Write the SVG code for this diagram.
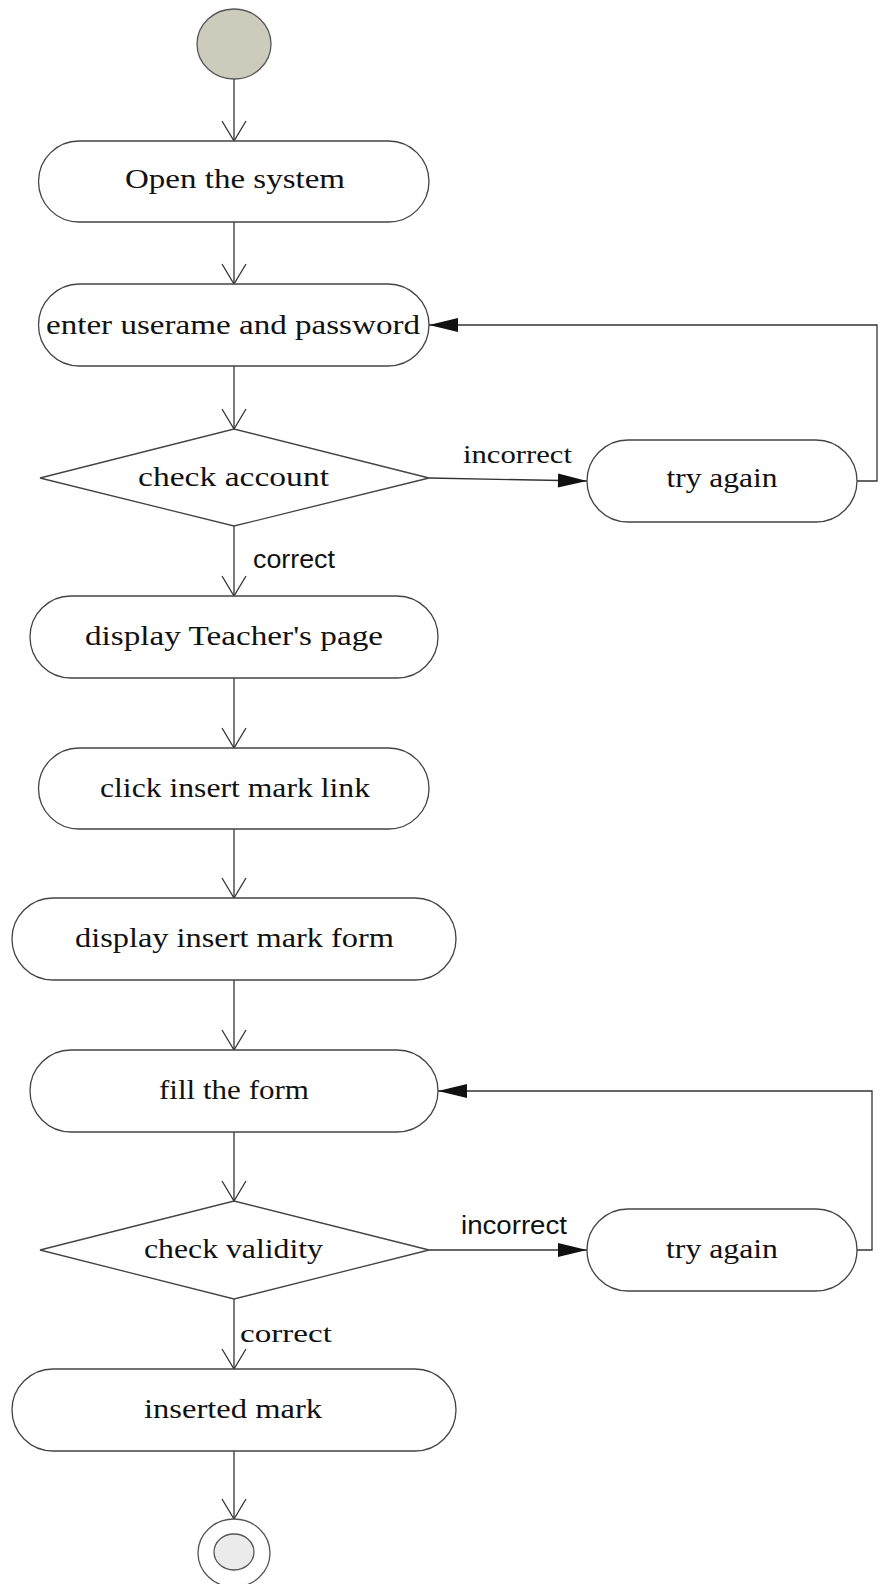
<svg xmlns="http://www.w3.org/2000/svg" width="880" height="1584" viewBox="0 0 880 1584">
<style>
  .node { fill: #ffffff; stroke: #444444; stroke-width: 1.3; }
  .lbl { font-family: "Liberation Serif", "Times New Roman", serif; font-size: 28px; fill: #111111; text-anchor: middle; }
  .elbl { font-family: "Liberation Serif", "Times New Roman", serif; font-size: 26px; fill: #111111; }
  .slbl { font-family: "Liberation Sans", Arial, sans-serif; font-size: 26px; fill: #111111; }
  .edge { fill: none; stroke: #333333; stroke-width: 1.3; }
</style>
<defs>
  <marker id="open" markerUnits="userSpaceOnUse" markerWidth="26" markerHeight="30" viewBox="-23 -15 26 30" refX="0" refY="0" orient="auto">
    <path d="M-20,-12 L0,0 L-20,12" fill="none" stroke="#333333" stroke-width="1.3"/>
  </marker>
  <marker id="filled" markerUnits="userSpaceOnUse" markerWidth="34" markerHeight="18" viewBox="-31 -9 34 18" refX="0" refY="0" orient="auto">
    <path d="M-29,-7 L0,0 L-29,7 Z" fill="#111111"/>
  </marker>
</defs>
<rect width="880" height="1584" fill="#ffffff"/>

<g id="connectors">
  <line class="edge" x1="234" y1="79" x2="234" y2="141" marker-end="url(#open)"/>
  <line class="edge" x1="234" y1="222" x2="234" y2="284" marker-end="url(#open)"/>
  <line class="edge" x1="234" y1="366" x2="234" y2="429" marker-end="url(#open)"/>
  <line class="edge" x1="429" y1="478" x2="587" y2="481" marker-end="url(#filled)"/>
  <polyline class="edge" points="857,481 877,481 877,325 429,325" marker-end="url(#filled)"/>
  <line class="edge" x1="234" y1="526" x2="234" y2="596" marker-end="url(#open)"/>
  <line class="edge" x1="234" y1="678" x2="234" y2="748" marker-end="url(#open)"/>
  <line class="edge" x1="234" y1="829" x2="234" y2="898" marker-end="url(#open)"/>
  <line class="edge" x1="234" y1="980" x2="234" y2="1050" marker-end="url(#open)"/>
  <line class="edge" x1="234" y1="1132" x2="234" y2="1201" marker-end="url(#open)"/>
  <line class="edge" x1="429" y1="1250" x2="587" y2="1250" marker-end="url(#filled)"/>
  <polyline class="edge" points="857,1250 872,1250 872,1091 438,1091" marker-end="url(#filled)"/>
  <line class="edge" x1="234" y1="1299" x2="234" y2="1369" marker-end="url(#open)"/>
  <line class="edge" x1="234" y1="1451" x2="234" y2="1519" marker-end="url(#open)"/>
  <text class="elbl" x="463" y="463" textLength="109" lengthAdjust="spacingAndGlyphs">incorrect</text>
  <text class="slbl" x="253" y="568" textLength="82" lengthAdjust="spacingAndGlyphs">correct</text>
  <text class="slbl" x="461" y="1234" textLength="106" lengthAdjust="spacingAndGlyphs">incorrect</text>
  <text class="elbl" x="240" y="1342" font-size="28" textLength="92" lengthAdjust="spacingAndGlyphs">correct</text>
</g>

<g id="start">
  <ellipse cx="234" cy="44" rx="37" ry="35" fill="#cdcbbb" stroke="#555555" stroke-width="1.3"/>
</g>

<g id="open-system">
  <rect class="node" x="38.5" y="141" width="390.5" height="81" rx="40.5"/>
  <text class="lbl" x="235" y="188" textLength="220" lengthAdjust="spacingAndGlyphs">Open the system</text>
</g>

<g id="enter-credentials">
  <rect class="node" x="38.5" y="284" width="390.5" height="82" rx="41"/>
  <text class="lbl" x="233" y="334" textLength="374" lengthAdjust="spacingAndGlyphs">enter userame and password</text>
</g>

<g id="check-account">
  <polygon class="node" points="40,478 234,429 429,478 234,526"/>
  <text class="lbl" x="233.5" y="486" textLength="191" lengthAdjust="spacingAndGlyphs">check account</text>
</g>

<g id="try-again-1">
  <rect class="node" x="587" y="440" width="270" height="82" rx="41"/>
  <text class="lbl" x="722" y="487" textLength="111" lengthAdjust="spacingAndGlyphs">try again</text>
</g>

<g id="teacher-page">
  <rect class="node" x="30" y="596" width="408" height="82" rx="41"/>
  <text class="lbl" x="234" y="645" textLength="298" lengthAdjust="spacingAndGlyphs">display Teacher's page</text>
</g>

<g id="click-link">
  <rect class="node" x="38.5" y="748" width="390.5" height="81" rx="40.5"/>
  <text class="lbl" x="235" y="797" textLength="270" lengthAdjust="spacingAndGlyphs">click insert mark link</text>
</g>

<g id="display-form">
  <rect class="node" x="12" y="898" width="444" height="82" rx="41"/>
  <text class="lbl" x="234.5" y="947" textLength="319" lengthAdjust="spacingAndGlyphs">display insert mark form</text>
</g>

<g id="fill-form">
  <rect class="node" x="30" y="1050" width="408" height="82" rx="41"/>
  <text class="lbl" x="234" y="1099" textLength="150" lengthAdjust="spacingAndGlyphs">fill the form</text>
</g>

<g id="check-validity">
  <polygon class="node" points="40,1250 234,1201 429,1250 234,1299"/>
  <text class="lbl" x="233.5" y="1258" textLength="179" lengthAdjust="spacingAndGlyphs">check validity</text>
</g>

<g id="try-again-2">
  <rect class="node" x="587" y="1209" width="270" height="82" rx="41"/>
  <text class="lbl" x="722" y="1258" textLength="112" lengthAdjust="spacingAndGlyphs">try again</text>
</g>

<g id="inserted-mark">
  <rect class="node" x="12" y="1369" width="444" height="82" rx="41"/>
  <text class="lbl" x="233" y="1418" textLength="178" lengthAdjust="spacingAndGlyphs">inserted mark</text>
</g>

<g id="end">
  <ellipse cx="234" cy="1553" rx="36" ry="34" fill="#ffffff" stroke="#555555" stroke-width="1.3"/>
  <ellipse cx="234" cy="1552" rx="20" ry="18" fill="#ebebeb" stroke="#555555" stroke-width="1.3"/>
</g>
</svg>
